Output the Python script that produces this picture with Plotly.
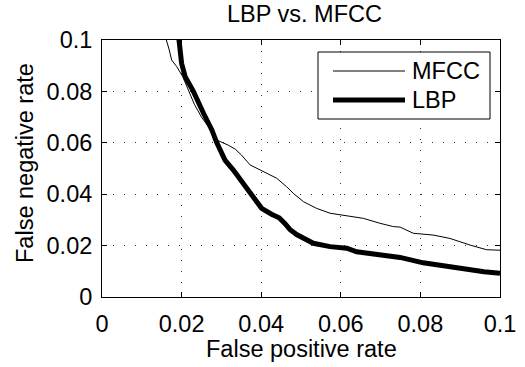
import plotly.graph_objects as go

# ---- data ----
mfcc_fpr = [0.0158, 0.0162, 0.0169, 0.0175, 0.0188, 0.0203, 0.0217, 0.0232, 0.0250, 0.0265,
            0.0278, 0.0288, 0.0305, 0.0317, 0.0335, 0.0350, 0.0372, 0.0405, 0.0439, 0.0464,
            0.0481, 0.0506, 0.0539, 0.0573, 0.0615, 0.0657, 0.0698, 0.0732, 0.0749, 0.0782,
            0.0832, 0.0874, 0.0925, 0.0966, 0.1000]
mfcc_fnr = [0.1020, 0.1000, 0.0961, 0.0922, 0.0896, 0.0857, 0.0802, 0.0750, 0.0700, 0.0670,
            0.0640, 0.0611, 0.0600, 0.0591, 0.0575, 0.0553, 0.0514, 0.0488, 0.0462, 0.0429,
            0.0403, 0.0371, 0.0345, 0.0326, 0.0316, 0.0306, 0.0287, 0.0274, 0.0272, 0.0248,
            0.0241, 0.0228, 0.0202, 0.0184, 0.0182]

lbp_fpr = [0.0192, 0.0193, 0.0200, 0.0209, 0.0229, 0.0255, 0.0276, 0.0288, 0.0309, 0.0330,
           0.0355, 0.0380, 0.0401, 0.0426, 0.0445, 0.0460, 0.0472, 0.0489, 0.0506, 0.0531, 0.0573,
           0.0615, 0.0640, 0.0682, 0.0732, 0.0749, 0.0807, 0.0874, 0.0925, 0.0960, 0.1000]
lbp_fnr = [0.1020, 0.1000, 0.0909, 0.0857, 0.0802, 0.0715, 0.0650, 0.0602, 0.0533, 0.0494,
           0.0442, 0.0390, 0.0345, 0.0322, 0.0308, 0.0285, 0.0263, 0.0243, 0.0228, 0.0209, 0.0196,
           0.0190, 0.0176, 0.0167, 0.0157, 0.0154, 0.0133, 0.0116, 0.0105, 0.0098, 0.0092]

x_ticks = [0, 0.02, 0.04, 0.06, 0.08, 0.1]
x_tick_labels = ["0", "0.02", "0.04", "0.06", "0.08", "0.1"]
y_ticks = [0, 0.02, 0.04, 0.06, 0.08, 0.1]
y_tick_labels = ["0", "0.02", "0.04", "0.06", "0.08", "0.1"]

FONT = "Liberation Sans, Arial, Helvetica, sans-serif"
FS = 23.5

# plot-area geometry (pixels) used for decoration placement
L, R, T, B = 102, 500, 40, 297
W, H = 525, 367

fig = go.Figure()
fig.add_trace(go.Scatter(x=mfcc_fpr, y=mfcc_fnr, mode="lines", name="MFCC",
                         line=dict(color="black", width=1), showlegend=False))
fig.add_trace(go.Scatter(x=lbp_fpr, y=lbp_fnr, mode="lines", name="LBP",
                         line=dict(color="black", width=5), showlegend=False))

axis_common = dict(
    showline=True, linecolor="black", linewidth=1, mirror="ticks",
    ticks="inside", ticklen=5, tickcolor="black", tickwidth=1,
    showgrid=True, gridcolor="#333", gridwidth=1, griddash="1px,10px",
    zeroline=False, tickfont=dict(family=FONT, size=FS, color="black"),
    range=[0, 0.1], fixedrange=True, automargin=False,
)
fig.update_xaxes(**axis_common, tickvals=x_ticks, ticktext=x_tick_labels, ticklabelstandoff=6)
fig.update_yaxes(**axis_common, tickvals=y_ticks, ticktext=y_tick_labels, ticklabelstandoff=4)


def px2x(px):
    return (px - L) / float(R - L)


def py2y(py):
    return (B - py) / float(B - T)


shapes = [
    dict(type="rect", xref="paper", yref="paper", x0=px2x(318), x1=px2x(490), y0=py2y(119), y1=py2y(52),
         line=dict(color="black", width=1), fillcolor="white", layer="above"),
    dict(type="line", xref="paper", yref="paper", x0=px2x(333), x1=px2x(405), y0=py2y(71), y1=py2y(71),
         line=dict(color="black", width=1), layer="above"),
    dict(type="line", xref="paper", yref="paper", x0=px2x(333), x1=px2x(405), y0=py2y(100), y1=py2y(100),
         line=dict(color="black", width=5), layer="above"),
]
txt = dict(family=FONT, size=FS, color="black")
annotations = [
    dict(text="MFCC", xref="paper", yref="paper", x=px2x(410), y=py2y(71), xanchor="left", yanchor="middle",
         showarrow=False, font=txt),
    dict(text="LBP", xref="paper", yref="paper", x=px2x(410), y=py2y(100), xanchor="left", yanchor="middle",
         showarrow=False, font=txt),
    # title
    dict(text="LBP vs. MFCC", xref="paper", yref="paper", x=px2x(304), y=py2y(14), xanchor="center",
         yanchor="middle", showarrow=False, font=txt),
    # axis titles
    dict(text="False positive rate", xref="paper", yref="paper", x=px2x(301), y=py2y(349),
         xanchor="center", yanchor="middle", showarrow=False, font=txt),
    dict(text="False negative rate", xref="paper", yref="paper", x=px2x(25), y=py2y(163),
         xanchor="center", yanchor="middle", textangle=-90, showarrow=False, font=txt),
]

fig.update_layout(
    width=W, height=H,
    margin=dict(l=L, r=W - R, t=T, b=H - B, autoexpand=False),
    paper_bgcolor="white", plot_bgcolor="white",
    shapes=shapes, annotations=annotations,
    showlegend=False,
)

fig.write_html("out.html", config={"displayModeBar": False, "staticPlot": True},
               post_script="document.body.style.margin='0';")
